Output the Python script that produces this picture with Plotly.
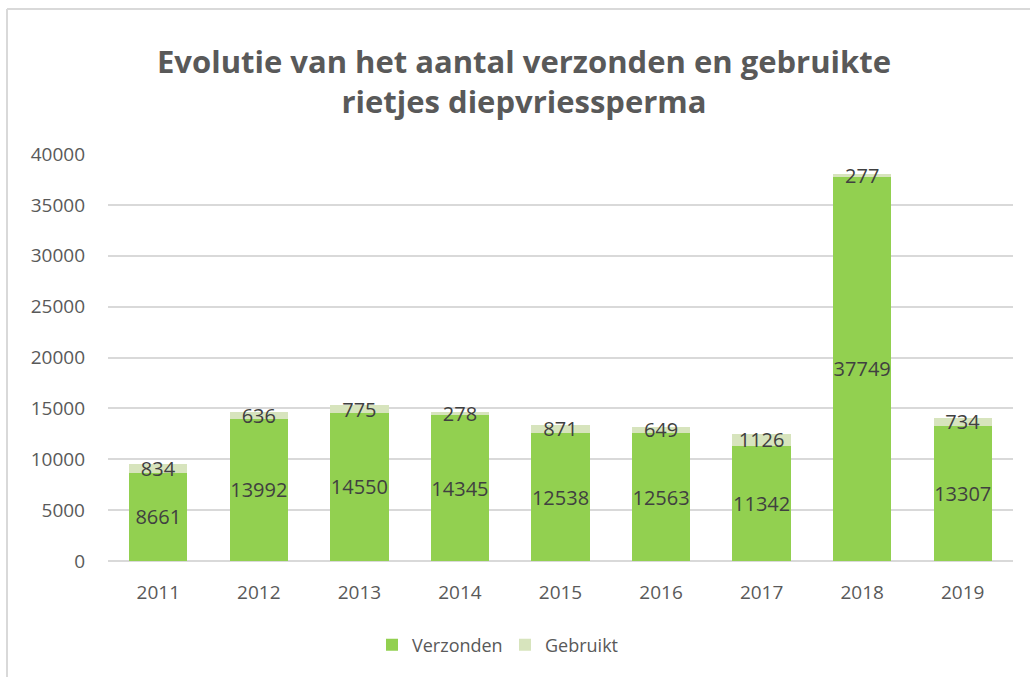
import plotly.graph_objects as go

years = ["2011", "2012", "2013", "2014", "2015", "2016", "2017", "2018", "2019"]
verzonden = [8661, 13992, 14550, 14345, 12538, 12563, 11342, 37749, 13307]
gebruikt = [834, 636, 775, 278, 871, 649, 1126, 277, 734]

title_text = "<b>Evolutie van het aantal verzonden en gebruikte<br>rietjes diepvriessperma</b>"
FONT = "Open Sans"

W, H = 1030, 677
ml, mr, mt, mb = 108, 17, 154, 116
pw, ph = W - ml - mr, H - mt - mb

fig = go.Figure()
fig.add_trace(go.Bar(
    x=years, y=verzonden, name="Verzonden",
    marker=dict(color="#92D050", line=dict(width=0)),
    text=[str(v) for v in verzonden], textposition="inside", textangle=0,
    insidetextanchor="middle", constraintext="none",
    textfont=dict(family=FONT, size=20, color="#404040"),
))
fig.add_trace(go.Bar(
    x=years, y=gebruikt, name="Gebruikt",
    marker=dict(color="#D7E4BD", line=dict(width=0)),
    text=[str(v) for v in gebruikt], textposition="inside", textangle=0,
    insidetextanchor="middle", constraintext="none",
    textfont=dict(family=FONT, size=20, color="#404040"),
))

def px_x(x):
    return (x - ml) / pw

def px_y(y):
    return (H - mb - y) / ph

fig.update_layout(
    width=W, height=H,
    margin=dict(l=ml, r=mr, t=mt, b=mb, autoexpand=False),
    barmode="stack", bargap=0.42,
    paper_bgcolor="white", plot_bgcolor="white",
    uniformtext=dict(mode="show", minsize=20),
    title=dict(text=title_text, x=524 / W, xanchor="center", y=1 - 73 / H, yanchor="middle",
               font=dict(family=FONT, size=31, color="#595959")),
    font=dict(family=FONT, color="#595959"),
    xaxis=dict(showgrid=False, showline=False, ticks="", tickfont=dict(size=19, color="#595959"),
               ticklabelstandoff=18),
    yaxis=dict(range=[0, 40000], dtick=5000, showgrid=True, gridcolor="#D9D9D9", gridwidth=1.5,
               zeroline=True, zerolinecolor="#D9D9D9", zerolinewidth=1.5,
               showline=False, ticks="", tickfont=dict(size=19, color="#595959"),
               tickformat="d", ticklabelstandoff=22),
    legend=dict(orientation="h", x=px_x(505), xanchor="center", y=px_y(645), yanchor="middle",
                font=dict(size=18, color="#595959"), traceorder="normal",
                itemwidth=30, entrywidth=88),
    showlegend=True,
    shapes=[
        dict(type="line", xref="paper", yref="paper", x0=px_x(7), x1=px_x(1040),
             y0=px_y(9), y1=px_y(9), line=dict(color="#D9D9D9", width=2)),
        dict(type="line", xref="paper", yref="paper", x0=px_x(7), x1=px_x(7),
             y0=px_y(9), y1=px_y(690), line=dict(color="#D9D9D9", width=2)),
    ],
)

fig.write_html("out.html", config={"displayModeBar": False},
               post_script="document.body.style.margin='0';")
